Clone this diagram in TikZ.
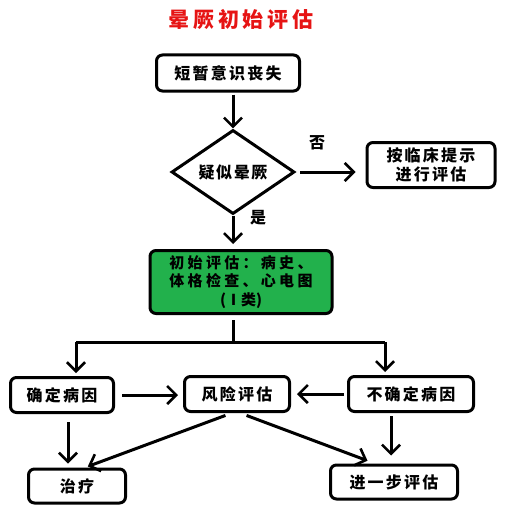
\documentclass[tikz,border=0pt]{standalone}
\usepackage{fontspec}
\setmainfont{Noto Sans CJK SC}
\usetikzlibrary{arrows.meta,shapes.geometric}
\definecolor{boxgreen}{RGB}{34,177,76}
\definecolor{titlered}{RGB}{230,20,20}
\tikzset{
  box/.style={draw=black, line width=3pt, rounded corners=6pt, fill=white, inner sep=0pt,
    align=center, font=\fontsize{16}{19}\selectfont\bfseries\addfontfeatures{LetterSpace=14}},
  arr/.style={draw=black, line width=3pt, -{Straight Barb[length=9pt,width=18pt,line width=2.6pt]}},
  ln/.style={draw=black, line width=3pt},
  lab/.style={font=\fontsize{16}{19}\selectfont\bfseries}
}
\begin{document}
\begin{tikzpicture}[x=1pt,y=-1pt]
\useasboundingbox (0,0) rectangle (510,519);
\node[text=titlered, font=\fontsize{21}{24}\selectfont\bfseries\addfontfeatures{LetterSpace=18}] (title) at (241,19) {晕厥初始评估};
\node[box, minimum width=143pt, minimum height=36pt] (n1) at (228,73) {短暂意识丧失};
\node[diamond, draw=black, line width=3pt, inner sep=0pt, minimum width=123pt, minimum height=73pt,
  font=\fontsize{16}{19}\selectfont\bfseries\addfontfeatures{LetterSpace=10}] (dia) at (233,172) {疑似晕厥};
\node[box, minimum width=128pt, minimum height=45pt] (n2) at (431,165) {按临床提示\\进行评估};
\node[box, fill=boxgreen, minimum width=182pt, minimum height=63pt,
  font=\fontsize{15}{18.5}\selectfont\bfseries\addfontfeatures{LetterSpace=22}] (g) at (241,282) {初始评估：病史、\\体格检查、心电图\\{\addfontfeatures{LetterSpace=0}(Ⅰ类)}};
\node[box, minimum width=103pt, minimum height=35pt] (a) at (62,395) {确定病因};
\node[box, minimum width=105pt, minimum height=35pt] (b) at (237,394) {风险评估};
\node[box, minimum width=125pt, minimum height=35pt] (c) at (411,394) {不确定病因};
\node[box, minimum width=97pt, minimum height=34pt] (d) at (77,486) {治疗};
\node[box, minimum width=127pt, minimum height=34pt] (e) at (394,482) {进一步评估};
\node[lab] (no) at (317,143) {否};
\node[lab] (yes) at (258,218) {是};
\coordinate (j) at (233,342);
\coordinate (jl) at (76,342);
\coordinate (jr) at (385,342);
% arrows
\draw[arr, shorten <=2pt] (dia.north |- n1.south) -- (dia.north);
\draw[arr, shorten <=4pt, shorten >=10pt] (dia.east) -- (dia.east -| n2.west);
\draw[arr, shorten >=5pt] (dia.south) -- (dia.south |- g.north);
\draw[ln, shorten <=5pt] (dia.south |- g.south) -- (j);
\draw[ln] (jl) -- (jr);
\draw[arr, shorten >=3pt] (jl) -- (jl |- a.north);
\draw[arr, shorten >=3pt] (jr) -- (jr |- c.north);
\draw[arr, shorten <=7pt, shorten >=5pt] (a.east) -- (a.east -| b.west);
\draw[arr, shorten <=3pt, shorten >=6pt] (c.west) -- (c.west -| b.east);
\draw[arr, shorten <=8pt, shorten >=4pt] ([xshift=6pt]a.south) -- ([xshift=6pt]a.south |- d.north);
\draw[arr, shorten <=7pt, shorten >=3pt] ([xshift=-5pt]b.south) -- ([xshift=8pt]d.north);
\draw[arr, shorten <=7pt, shorten >=8pt] ([xshift=3pt]b.south) -- ([xshift=-19pt]e.north);
\draw[arr, shorten <=3pt, shorten >=8pt] ([xshift=-20pt]c.south) -- ([xshift=-20pt]c.south |- e.north);
\end{tikzpicture}
\end{document}
